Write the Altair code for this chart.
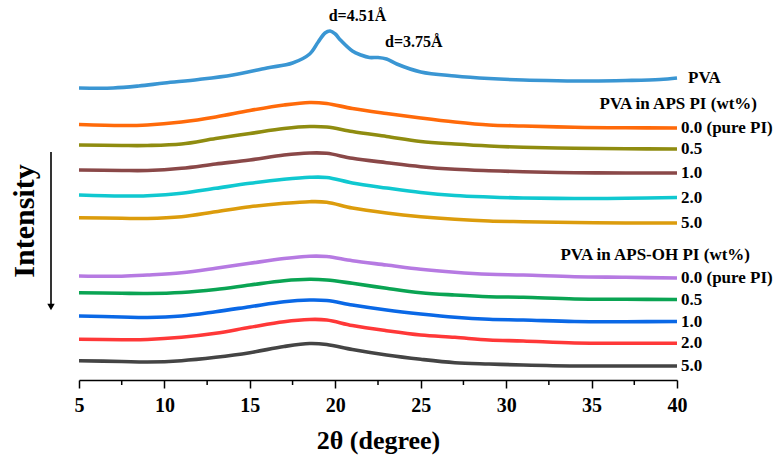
import altair as alt
import pandas as pd

# ---- data (2θ in degrees, stacked intensity in a.u.) ----
grid = [5, 7.5, 9, 11, 13, 15, 17, 18.5, 19.5, 21, 23, 25, 27, 29, 31, 34, 37, 40]

pva_deg = [5, 7, 8.5, 10, 12, 14, 16, 17.5, 18.5, 19, 19.4, 19.7, 20, 20.3, 21,
           21.5, 22, 22.5, 23, 23.6, 25, 27, 29, 31, 33, 35, 37, 39, 40]
pva_int = [312, 312, 314, 317, 320.5, 325, 332, 337, 346, 358, 367, 369, 366, 360, 349,
           345, 342.5, 342.5, 341, 336, 328, 324, 321.5, 320, 319.3, 319, 319.5, 320.5, 322]

aps_00 = [275.5, 274.5, 275, 278, 283, 289.5, 295, 297.5, 296.5, 291.5, 286.5, 282, 278, 275, 274, 272.7, 272.2, 272]
aps_05 = [255, 254.5, 254.5, 256, 261.5, 266.5, 271.5, 273.5, 273, 268.5, 263.5, 258.5, 256, 254, 252.7, 251.7, 251.2, 251]
aps_10 = [230, 229.5, 229.5, 231.7, 236, 240, 245, 247, 246.7, 241.7, 237.3, 233.3, 230.7, 229.3, 228.3, 227.3, 227, 227]
aps_20 = [205, 204, 204.3, 206.7, 211.7, 216.7, 220.7, 222.7, 222.5, 217, 212, 207.5, 204.5, 203, 202, 201.5, 201.7, 202.5]
aps_50 = [182.3, 181.7, 181.5, 183.3, 188.3, 193.3, 196.7, 198.3, 197.8, 192, 187, 183.3, 180.7, 179, 178.3, 177.5, 177, 177]

oh_00 = [124, 123.8, 125, 127.3, 131.7, 136.7, 141.5, 143.8, 143.5, 139.3, 135, 130.7, 127.7, 125.7, 125, 123.3, 122.7, 122]
oh_05 = [107.3, 106.7, 106.5, 107.5, 110.5, 115, 119.3, 120.7, 120, 116.7, 111.7, 107.3, 105, 103.3, 102.7, 101, 100.7, 100.5]
oh_10 = [84, 83, 82.5, 84, 88.3, 93.3, 98.3, 100, 99.5, 95, 90, 86, 82.7, 80.7, 80, 78.5, 78.3, 78.5]
oh_20 = [60.7, 60.3, 60.5, 62.7, 66.7, 72.7, 78.3, 80.5, 80, 74.5, 69.3, 65, 62.7, 60, 59, 57, 56.7, 56.7]
oh_50 = [39.3, 38.5, 38, 39.3, 42.7, 47.3, 53.5, 56.5, 55.5, 50.5, 45, 40.7, 37.3, 36, 35, 34, 34, 34]

series_ids = ["PVA", "APS 0.0", "APS 0.5", "APS 1.0", "APS 2.0", "APS 5.0",
              "OH 0.0", "OH 0.5", "OH 1.0", "OH 2.0", "OH 5.0"]
series_labels = ["PVA", "0.0 (pure PI)", "0.5", "1.0", "2.0", "5.0",
                 "0.0 (pure PI)", "0.5", "1.0", "2.0", "5.0"]
series_colors = ["#3a96d3", "#ff6a0a", "#8f8c10", "#8a4848", "#10c8d0", "#dc9c0c",
                 "#b67ae2", "#0aa453", "#0a68e6", "#ff3838", "#444444"]

header_texts = ["PVA in APS PI (wt%)", "PVA in APS-OH PI (wt%)"]
header_levels = [296, 145]
annot_texts = ["d=4.51Å", "d=3.75Å"]
annot_deg = [21.3, 24.6]
annot_levels = [384, 358]

major_ticks = [5, 10, 15, 20, 25, 30, 35, 40]
minor_ticks = [7.5, 12.5, 17.5, 22.5, 27.5, 32.5, 37.5]

# ---- tables ----
rows = []
curves = [pva_int, aps_00, aps_05, aps_10, aps_20, aps_50, oh_00, oh_05, oh_10, oh_20, oh_50]
for sid, ys in zip(series_ids, curves):
    xs_ = pva_deg if sid == "PVA" else grid
    for x, y in zip(xs_, ys):
        rows.append({"series": sid, "deg": x, "intensity": y})
df = pd.DataFrame(rows)

lab = pd.DataFrame({
    "series": series_ids,
    "label": series_labels,
    "deg": [40] * len(series_ids),
    "intensity": [c[-1] for c in curves],
})

FONT = "Liberation Serif"
xs = alt.Scale(domain=[5, 40], nice=False, zero=False)
ys = alt.Scale(domain=[20, 380], nice=False, zero=False)

lines = alt.Chart(df).mark_line(strokeWidth=3.6, interpolate="catmull-rom").encode(
    x=alt.X("deg:Q", scale=xs,
            axis=alt.Axis(values=major_ticks, title="2θ (degree)", grid=False,
                          domainColor="black", domainWidth=1.5, tickColor="black",
                          tickWidth=1.5, tickSize=8, labelFont=FONT, labelFontSize=20,
                          labelFontWeight="bold", labelColor="black", labelPadding=7,
                          titleFont=FONT, titleFontSize=26, titleFontWeight="bold",
                          titleColor="black", titlePadding=12, labelFlush=False)),
    y=alt.Y("intensity:Q", scale=ys, axis=None),
    color=alt.Color("series:N", scale=alt.Scale(domain=series_ids, range=series_colors), legend=None),
    detail="series:N",
)

minor = alt.Chart(pd.DataFrame({"deg": minor_ticks})).mark_rule(
    color="black", strokeWidth=1.5).encode(
    x=alt.X("deg:Q", scale=xs), y=alt.value(360), y2=alt.value(365))

labels_main = alt.Chart(lab[lab.series != "PVA"]).mark_text(
    align="left", baseline="middle", dx=4, font=FONT, fontSize=17,
    fontWeight="bold", color="black").encode(
    x=alt.X("deg:Q", scale=xs), y=alt.Y("intensity:Q", scale=ys), text="label:N")

labels_pva = alt.Chart(lab[lab.series == "PVA"]).mark_text(
    align="left", baseline="middle", dx=11, font=FONT, fontSize=17,
    fontWeight="bold", color="black").encode(
    x=alt.X("deg:Q", scale=xs), y=alt.Y("intensity:Q", scale=ys), text="label:N")

header_aps = alt.Chart(pd.DataFrame({"text": [header_texts[0]], "deg": [40],
                                     "intensity": [header_levels[0]]})).mark_text(
    align="right", baseline="middle", dx=80, font=FONT, fontSize=17,
    fontWeight="bold", color="black").encode(
    x=alt.X("deg:Q", scale=xs), y=alt.Y("intensity:Q", scale=ys), text="text:N")

header_oh = alt.Chart(pd.DataFrame({"text": [header_texts[1]], "deg": [40],
                                    "intensity": [header_levels[1]]})).mark_text(
    align="right", baseline="middle", dx=73, font=FONT, fontSize=17,
    fontWeight="bold", color="black").encode(
    x=alt.X("deg:Q", scale=xs), y=alt.Y("intensity:Q", scale=ys), text="text:N")

annot = alt.Chart(pd.DataFrame({
    "text": annot_texts, "deg": annot_deg, "intensity": annot_levels})).mark_text(
    align="center", baseline="middle", font=FONT, fontSize=16,
    fontWeight="bold", color="black").encode(
    x=alt.X("deg:Q", scale=xs), y=alt.Y("intensity:Q", scale=ys), text="text:N")

ylab = alt.Chart(pd.DataFrame({"t": ["Intensity"]})).mark_text(
    angle=270, align="center", baseline="middle", font=FONT, fontSize=30,
    fontWeight="bold", color="black").encode(
    x=alt.value(-54), y=alt.value(201), text="t:N")

arrow = alt.Chart(pd.DataFrame({"t": [1]})).mark_rule(color="black", strokeWidth=1.6).encode(
    x=alt.value(-28), y=alt.value(132), y2=alt.value(284))
head = alt.Chart(pd.DataFrame({"t": [1]})).mark_point(
    shape="triangle-down", filled=True, color="black", size=55, opacity=1).encode(
    x=alt.value(-28), y=alt.value(287))

chart = alt.layer(lines, minor, labels_main, labels_pva, header_aps, header_oh,
                  annot, ylab, arrow, head).properties(
    width=598, height=360,
    padding={"left": 79, "top": 20, "right": 96, "bottom": 86},
    autosize=alt.AutoSizeParams(type="none"),
).configure_view(stroke=None)

chart.save("out.html", embed_options={"renderer": "svg", "actions": False})
